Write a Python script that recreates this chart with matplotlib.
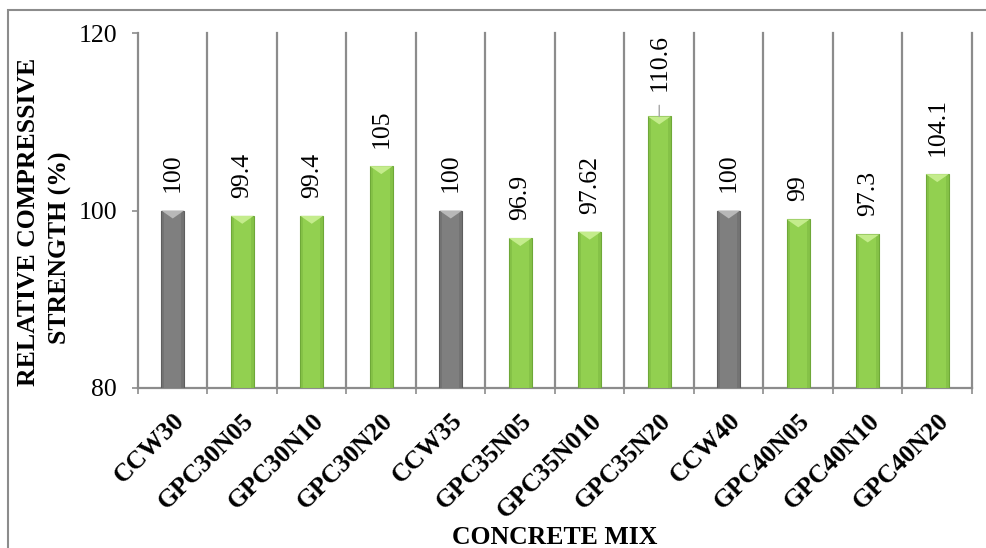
import matplotlib
matplotlib.use("Agg")
import matplotlib.pyplot as plt
from matplotlib.patches import Rectangle, Polygon
import numpy as np

plt.rcParams['font.family'] = ['Liberation Serif', 'DejaVu Serif']

mixes = ["CCW30", "GPC30N05", "GPC30N10", "GPC30N20",
         "CCW35", "GPC35N05", "GPC35N010", "GPC35N20",
         "CCW40", "GPC40N05", "GPC40N10", "GPC40N20"]
strength = [100, 99.4, 99.4, 105, 100, 96.9, 97.62, 110.6, 100, 99, 97.3, 104.1]
labels = ["100", "99.4", "99.4", "105", "100", "96.9", "97.62", "110.6",
          "100", "99", "97.3", "104.1"]
is_control = [m.startswith("CCW") for m in mixes]

FS = 18.5
W, H = 987, 548

fig = plt.figure(figsize=(W / 100, H / 100), dpi=100)
ax = fig.add_axes([138 / W, 1 - 388 / H, (972 - 138) / W, (388 - 33) / H])

grid_col = "#8c8c8c"
x = np.arange(len(mixes))
width = 0.33
base = 80

for xi, v, ctl in zip(x, strength, is_control):
    face = "#7f7f7f" if ctl else "#92d050"
    dark = "#5e5e5e" if ctl else "#6ea838"
    light = "#b8b8b8" if ctl else "#c4ec8c"
    ax.bar(xi, v - base, bottom=base, width=width, color=face,
           edgecolor=dark, linewidth=0.8, zorder=3)
    # darker side shading
    for off in (-width / 2, width / 2 - width * 0.14):
        ax.add_patch(Rectangle((xi + off, base), width * 0.14, v - base,
                               facecolor=dark, alpha=0.35, linewidth=0, zorder=3.5))
    # bevel highlight at the top
    ax.add_patch(Polygon([(xi - width / 2, v), (xi + width / 2, v), (xi, v - 0.9)],
                         closed=True, facecolor=light, edgecolor="none", zorder=4))

for xi, v, lab in zip(x, strength, labels):
    if lab == "110.6":
        ax.annotate(lab, xy=(xi, v), xytext=(0, 18), textcoords="offset points",
                    rotation=90, ha="center", va="bottom", fontsize=FS, zorder=5,
                    arrowprops=dict(arrowstyle="-", color="#a6a6a6", lw=1,
                                    shrinkA=8, shrinkB=0))
    else:
        ax.annotate(lab, xy=(xi, v), xytext=(0, 13), textcoords="offset points",
                    rotation=90, ha="center", va="bottom", fontsize=FS, zorder=5)

ax.set_xlim(-0.5, len(mixes) - 0.5)
ax.set_ylim(80, 120)
ax.set_yticks([80, 100, 120])
ax.tick_params(axis="y", labelsize=FS, direction="out", length=4.5, width=1.2,
               color=grid_col, pad=10.5)

ax.set_xticks(x)
ax.set_xticklabels(mixes, rotation=45, ha="right", va="top",
                   rotation_mode="anchor", fontsize=FS, fontweight="bold")
ax.tick_params(axis="x", length=0, pad=15)
ax.set_xticks(np.arange(-0.5, len(mixes)), minor=True)
ax.tick_params(axis="x", which="minor", length=4, width=1.2, color=grid_col)

for b in np.arange(0.5, len(mixes) + 0.5):
    ax.axvline(b, color=grid_col, lw=1.6, zorder=1, clip_on=False)

for side in ("top", "right"):
    ax.spines[side].set_visible(False)
for side in ("left", "bottom"):
    ax.spines[side].set_color(grid_col)
    ax.spines[side].set_linewidth(1.6)

# axis titles
fig.text(29 / W, 1 - 222 / H, "RELATIVE COMPRESSIVE", rotation=90,
         ha="center", va="center", fontsize=FS, fontweight="bold")
fig.text(60 / W, 1 - 248 / H, "STRENGTH (%)", rotation=90,
         ha="center", va="center", fontsize=FS, fontweight="bold")
fig.text(555 / W, 4 / H, "CONCRETE MIX", ha="center", va="baseline",
         fontsize=FS, fontweight="bold")

# outer chart frame
fig.add_artist(Rectangle((8 / W, -0.05), 1.1, 1.05 - 10 / H,
                         transform=fig.transFigure, fill=False,
                         edgecolor="#8c8c8c", linewidth=1.5))

fig.savefig("out.png", dpi=100)
